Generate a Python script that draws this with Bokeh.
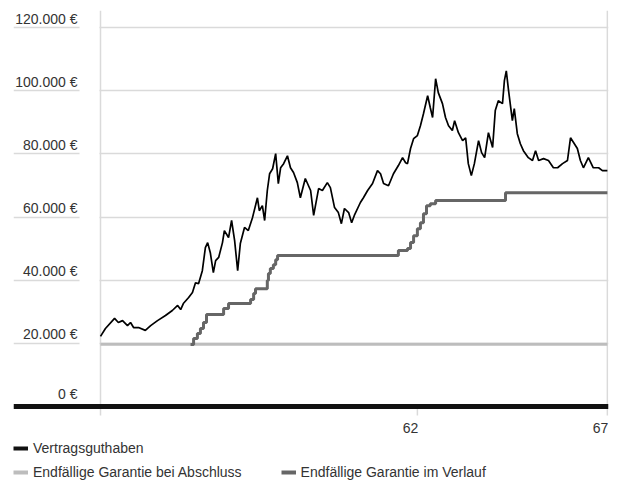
from bokeh.plotting import figure
from bokeh.models import (Range1d, FixedTicker, Span, Legend, LegendItem, Grid,
                          LabelSet, ColumnDataSource, BoxAnnotation)
from bokeh.core.properties import value
from bokeh.embed import file_html
from bokeh.resources import INLINE

# ---- data (age in years, values in EUR) ----
age = [53.66, 53.79, 54.03, 54.13, 54.24, 54.37, 54.45, 54.53, 54.66, 54.84,
       54.98, 55.16, 55.37, 55.55, 55.69, 55.77, 55.84, 55.98, 56.08, 56.16,
       56.24, 56.34, 56.42, 56.48, 56.55, 56.63, 56.69, 56.77, 56.87, 56.92,
       57.03, 57.11, 57.19, 57.27, 57.34, 57.45, 57.55, 57.66, 57.79, 57.84,
       57.92, 57.98, 58.05, 58.11, 58.19, 58.27, 58.34, 58.40, 58.48, 58.58,
       58.66, 58.74, 58.84, 58.92, 59.05, 59.19, 59.27, 59.40, 59.50, 59.63,
       59.71, 59.82, 59.92, 60.00, 60.08, 60.19, 60.27, 60.34, 60.50, 60.58,
       60.69, 60.82, 60.95, 61.03, 61.11, 61.24, 61.37, 61.50, 61.61, 61.69,
       61.74, 61.82, 61.90, 62.00, 62.08, 62.16, 62.27, 62.34, 62.40, 62.48,
       62.55, 62.66, 62.74, 62.82, 62.92, 62.98, 63.08, 63.19, 63.27, 63.34,
       63.42, 63.50, 63.61, 63.69, 63.77, 63.87, 63.98, 64.05, 64.13, 64.24,
       64.29, 64.34, 64.40, 64.50, 64.55, 64.63, 64.71, 64.79, 64.92, 65.03,
       65.11, 65.19, 65.32, 65.45, 65.58, 65.69, 65.82, 65.95, 66.03, 66.11,
       66.21, 66.29, 66.37, 66.50, 66.63, 66.77, 66.87, 67.00]
vertragsguthaben = [22200, 24700, 27900, 26600, 27200, 25600, 26600, 25000, 25000, 24100,
                    25600, 27200, 28800, 30400, 32000, 30700, 32600, 34500, 36100, 39200,
                    38900, 43000, 50300, 51900, 48700, 42400, 46200, 47200, 51900, 55700,
                    53500, 58900, 52500, 43000, 51600, 56700, 55700, 59800, 66100, 62000,
                    63600, 58900, 68400, 73700, 75300, 80100, 70600, 75600, 76900, 79400,
                    75600, 74100, 70900, 66100, 72200, 68400, 60500, 69000, 68400, 70900,
                    69300, 63000, 61400, 57900, 62700, 61400, 58200, 60500, 64600, 66100,
                    68400, 70600, 74700, 73700, 70600, 69900, 73700, 76300, 78800, 77200,
                    76900, 81700, 84800, 85800, 88900, 92700, 98400, 94600, 91500, 103800,
                    99400, 95900, 91500, 88900, 87400, 90500, 86700, 84200, 85100, 76900,
                    73100, 76900, 84200, 80400, 78800, 86700, 82000, 93700, 96800, 95900,
                    103200, 106300, 100000, 90500, 94300, 86400, 83200, 81000, 78800, 77900,
                    81000, 77900, 78500, 77900, 75600, 75600, 76900, 77900, 85100, 83600,
                    81700, 77900, 75600, 78800, 75600, 75600, 74700, 74700]

abschluss_age = [53.66, 67.00]
garantie_abschluss = [19700, 19700]

verlauf_age = [56.03, 56.11, 56.21, 56.29, 56.37, 56.45, 56.90, 57.03, 57.61, 57.69,
               57.74, 58.05, 58.08, 58.13, 58.21, 58.27, 58.32, 61.50, 61.74, 61.82,
               61.90, 62.00, 62.08, 62.16, 62.24, 62.34, 62.48, 64.32, 67.00]
garantie_verlauf = [19600, 21500, 23100, 24700, 26600, 29100, 31000, 32600, 33900, 35800,
                    37300, 39900, 42100, 43700, 44900, 46500, 47800, 49400, 50000, 51900,
                    54100, 56300, 58200, 61000, 63600, 64200, 65200, 67700, 67700]

y_ticks = [0, 20000, 40000, 60000, 80000, 100000, 120000]
y_tick_labels = ["0 €", "20.000 €", "40.000 €", "60.000 €", "80.000 €", "100.000 €", "120.000 €"]
x_ticks = [53.66, 62, 67]
x_tick_labels = ["", "62", "67"]

# ---- styling / layout ----
FONT = "Liberation Sans"
TXT = "#333333"
GRID = "#dadada"
W, H = 620, 481
ML, MR, MT, MB = 13, 12, 10, 0
X0, X1 = 51.37, 67.03
Y0, Y1 = -23750, 125400
frame_w = W - ML - MR
frame_h = H - MT - MB
px_x = frame_w / (X1 - X0)          # pixels per year
px_y = frame_h / (Y1 - Y0)          # pixels per euro

p = figure(width=W, height=H, output_backend="svg", toolbar_location=None,
           x_range=Range1d(X0, X1), y_range=Range1d(Y0, Y1),
           x_axis_type=None, y_axis_type=None,
           min_border_left=ML, min_border_right=MR, min_border_top=MT, min_border_bottom=MB)
p.outline_line_color = None
p.background_fill_color = "white"
p.border_fill_color = "white"

# horizontal grid
p.add_layout(Grid(dimension=1, ticker=FixedTicker(ticks=y_ticks),
                  grid_line_color=GRID, grid_line_width=1.5))
# small gap in the grid lines between the labels and the plot start
x_start, x_end = age[0], age[-1]
p.add_layout(BoxAnnotation(left=x_start - 21 / px_x, right=x_start - 1 / px_x,
                           bottom=4 / px_y, top=Y1, fill_color="white", fill_alpha=1,
                           line_color=None, level="underlay"))

# vertical frame lines + x ticks (extend 9px below the baseline)
tick_len = 9 / px_y
p.segment(x0=x_ticks, x1=x_ticks,
          y0=[Y1 if t in (x_start, x_end) else 0 for t in x_ticks],
          y1=[-tick_len] * len(x_ticks), line_color=GRID, line_width=1.5)

# data lines
p.line(abschluss_age, garantie_abschluss, line_color="#bdbdbd", line_width=3)
p.step(verlauf_age, garantie_verlauf, mode="after", line_color="#666666", line_width=3)
p.line(age, vertragsguthaben, line_color="#000000", line_width=1.7)

# thick baseline at 0
p.add_layout(Span(location=0, dimension="width", line_color="#111111", line_width=5))

# y tick labels (above the grid lines, right-aligned)
ysrc = ColumnDataSource(dict(x=[x_start] * len(y_ticks), y=y_ticks, t=y_tick_labels,
                             dy=[8 if v == 0 else 4 for v in y_ticks]))
p.add_layout(LabelSet(x="x", y="y", text="t", source=ysrc, x_offset=-23, y_offset="dy",
                      text_align="right", text_baseline="alphabetic",
                      text_font=value(FONT), text_font_size="14px", text_color=TXT))
# x tick labels (right-aligned at the tick)
xs = [t for t, l in zip(x_ticks, x_tick_labels) if l]
xl = [l for l in x_tick_labels if l]
xsrc = ColumnDataSource(dict(x=xs, y=[0] * len(xs), t=xl))
p.add_layout(LabelSet(x="x", y="y", text="t", source=xsrc, x_offset=1, y_offset=-26,
                      text_align="right", text_baseline="alphabetic",
                      text_font=value(FONT), text_font_size="14px", text_color=TXT))

# legend swatches: hidden copies of the series with thicker lines, used only by the legend
r_black = p.line(age, vertragsguthaben, line_color="#111111", line_width=4, visible=False)
r_light = p.line(abschluss_age, garantie_abschluss, line_color="#bdbdbd", line_width=4,
                 visible=False)
r_dark = p.line(verlauf_age, garantie_verlauf, line_color="#666666", line_width=4,
                visible=False)

common = dict(border_line_color=None, background_fill_alpha=0, padding=0, margin=0,
              glyph_width=15, glyph_height=18, label_standoff=5, label_height=18,
              inactive_fill_alpha=0,
              label_text_font=FONT, label_text_font_size="14px", label_text_color=TXT)
leg1 = Legend(items=[LegendItem(label="Vertragsguthaben", renderers=[r_black])],
              location=(0, 24), **common)
leg2 = Legend(items=[LegendItem(label="Endfällige Garantie bei Abschluss", renderers=[r_light]),
                     LegendItem(label="Endfällige Garantie im Verlauf", renderers=[r_dark])],
              orientation="horizontal", spacing=39, location=(0, 0), **common)
p.add_layout(leg1)
p.add_layout(leg2)

open("out.html", "w").write(file_html(p, INLINE))
